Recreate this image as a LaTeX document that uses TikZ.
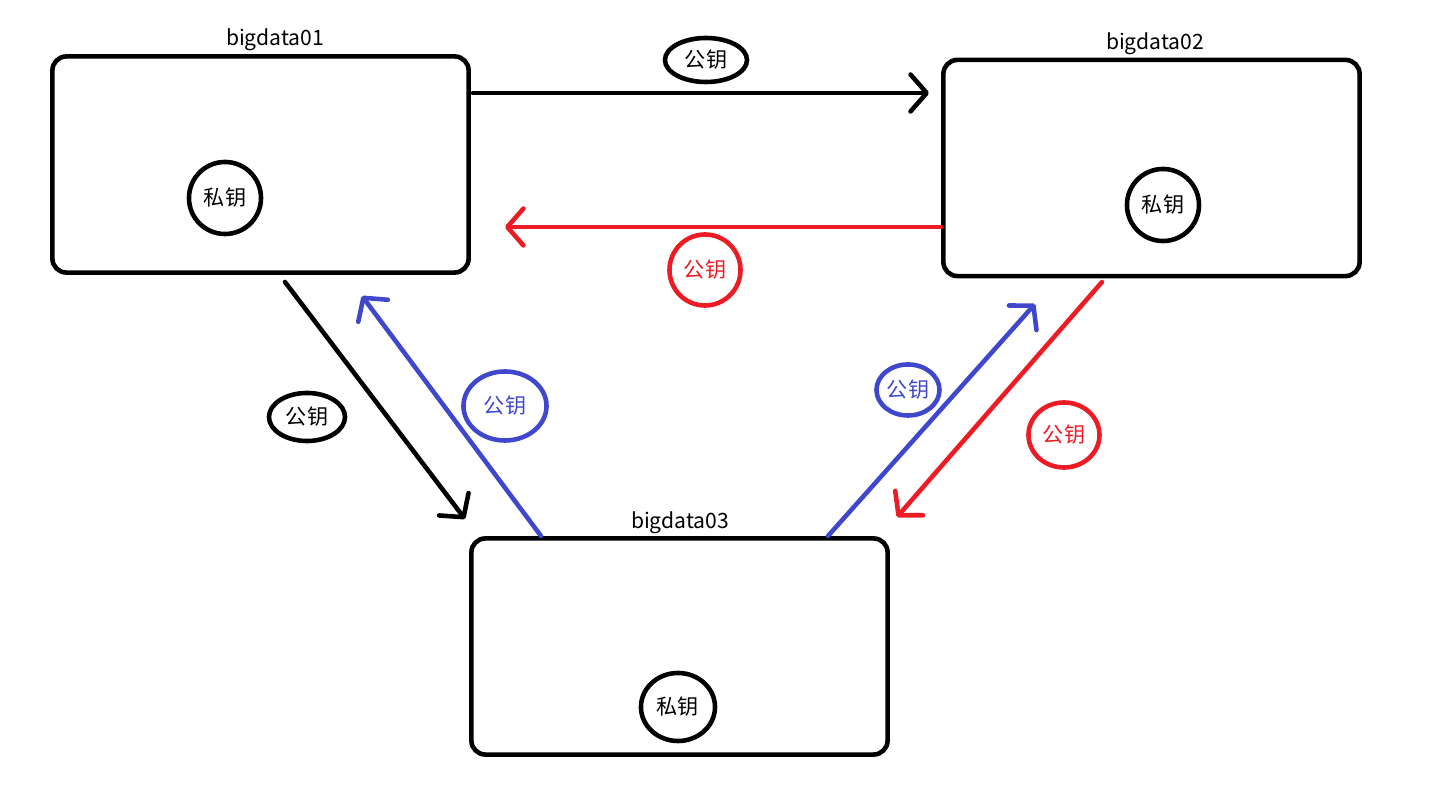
\documentclass[tikz,border=0pt]{standalone}
\usepackage{fontspec}
\setmainfont{Noto Sans CJK SC}
\usetikzlibrary{arrows.meta,shapes.geometric}
\definecolor{pred}{HTML}{ED1C24}
\definecolor{pblue}{HTML}{3F48CC}
\tikzset{
  hostbox/.style={draw=black,line width=1.3pt,rounded corners=0.14cm,rectangle,minimum width=4.16cm,minimum height=2.16cm,inner sep=0pt},
  keyoval/.style={ellipse,line width=1.3pt,inner sep=0pt,font=\fontsize{6pt}{6.5pt}\selectfont},
  hostlabel/.style={font=\fontsize{6pt}{6.5pt}\selectfont,inner sep=0pt},
  conn/.style={line width=1.3pt,line cap=round,-{Straight Barb[length=4.6pt,width=10.5pt,line width=1.3pt,line cap=round,line join=round]}}
}
\begin{document}
\begin{tikzpicture}[x=0.01cm,y=-0.01cm]
\useasboundingbox (0,0) rectangle (1450,810);
% hosts
\node[hostbox] (b1) at (260.5,164.5) {};
\node[hostbox] (b2) at (1151.5,168) {};
\node[hostbox] (b3) at (679.5,646.5) {};
\node[hostlabel] (l1) at (275,40) {bigdata01};
\node[hostlabel] (l2) at (1155,44) {bigdata02};
\node[hostlabel] (l3) at (680,523) {bigdata03};
% private keys
\node[keyoval,draw=black,minimum width=0.72cm,minimum height=0.72cm] (p1) at (225,198) {私钥};
\node[keyoval,draw=black,minimum width=0.72cm,minimum height=0.72cm] (p2) at (1163,205) {私钥};
\node[keyoval,draw=black,minimum width=0.74cm,minimum height=0.68cm] (p3) at (678,707) {私钥};
% public keys
\node[keyoval,draw=black,minimum width=0.82cm,minimum height=0.44cm] (k1) at (706,60) {公钥};
\node[keyoval,draw=pred,text=pred,minimum width=0.71cm,minimum height=0.71cm] (k2) at (705,270) {公钥};
\node[keyoval,draw=black,minimum width=0.76cm,minimum height=0.48cm] (k3) at (307,417) {公钥};
\node[keyoval,draw=pblue,text=pblue,minimum width=0.83cm,minimum height=0.69cm] (k4) at (505,406) {公钥};
\node[keyoval,draw=pblue,text=pblue,minimum width=0.63cm,minimum height=0.51cm] (k5) at (908,390) {公钥};
\node[keyoval,draw=pred,text=pred,minimum width=0.71cm,minimum height=0.65cm] (k6) at (1064,435) {公钥};
% connector endpoints
\coordinate (a1s) at (473,93);   \coordinate (a1e) at (929,93);
\coordinate (a2s) at (941,227);  \coordinate (a2e) at (505,227);
\coordinate (a3s) at (285,282);  \coordinate (a3e) at (465,519);
\coordinate (a4s) at (541,536);  \coordinate (a4e) at (362,296);
\coordinate (a5s) at (828,536);  \coordinate (a5e) at (1035,304);
\coordinate (a6s) at (1102,282); \coordinate (a6e) at (897,517);
\draw[conn,black] (a1s) -- (a1e);
\draw[conn,pred] (a2s) -- (a2e);
\draw[conn,black] (a3s) -- (a3e);
\draw[conn,pblue] (a4s) -- (a4e);
\draw[conn,pblue] (a5s) -- (a5e);
\draw[conn,pred] (a6s) -- (a6e);
\end{tikzpicture}
\end{document}
